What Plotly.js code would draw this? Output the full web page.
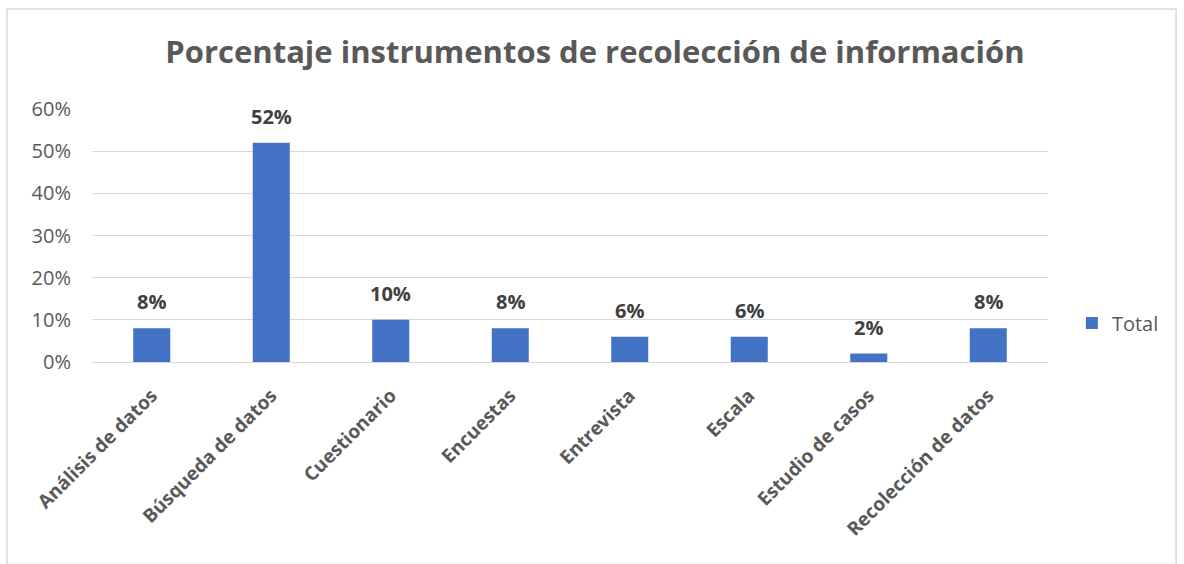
<!DOCTYPE html>
<html><head><meta charset="utf-8">
<script src="https://cdn.plot.ly/plotly-3.0.1.min.js"></script>
<style>body{margin:0;background:#fff}#chart{width:1184px;height:564px}</style>
</head><body><div id="chart"></div>
<script>
const categories = ["Análisis de datos","Búsqueda de datos","Cuestionario","Encuestas","Entrevista","Escala","Estudio de casos","Recolección de datos"];
const values = [0.08,0.52,0.10,0.08,0.06,0.06,0.02,0.08];
const labels = ["8%","52%","10%","8%","6%","6%","2%","8%"];
const seriesName = "Total";

const font = "Open Sans, sans-serif";
const annotations = categories.map((c,i)=>({
  x:c, y:values[i], xref:'x', yref:'y', text:'<b>'+labels[i]+'</b>', showarrow:false,
  yanchor:'bottom', yshift:11, font:{family:font,size:20,color:'#404040'}
}));

const trace = {type:'bar', x:categories, y:values, name:seriesName, marker:{color:'#4472c4'}, showlegend:true, hoverinfo:'none'};
const layout = {
  width:1184, height:564,
  margin:{l:92,r:136,t:109,b:202},
  paper_bgcolor:'#fff', plot_bgcolor:'#fff',
  title:{text:'<b>Porcentaje instrumentos de recolección de información</b>', font:{family:font,size:31,color:'#595959'}, x:0.5025, xanchor:'center', y:0.907, yanchor:'middle', xref:'container'},
  bargap:0.69,
  xaxis:{tickangle:-45, tickfont:{family:font,size:19,color:'#595959',weight:'bold'}, ticklabelstandoff:14, showline:true, linecolor:'#d9d9d9', ticks:'', categoryorder:'array', categoryarray:categories},
  yaxis:{range:[0,0.6], dtick:0.1, tickformat:'.0%', tickfont:{family:font,size:20,color:'#595959'}, gridcolor:'#d9d9d9', zeroline:false, ticks:'', ticklabelstandoff:20},
  legend:{x:1.025, y:0.154, xanchor:'left', yanchor:'middle', font:{family:font,size:20,color:'#595959'}},
  annotations:annotations,
  shapes:[{type:'rect', xref:'paper', yref:'paper', x0:-0.0889, x1:1.134, y0:-0.8, y1:1.395, line:{color:'#d9d9d9',width:1.5}, fillcolor:'rgba(0,0,0,0)', layer:'below'}]
};
Plotly.newPlot('chart',[trace],layout,{displayModeBar:false,staticPlot:true});
</script></body></html>
